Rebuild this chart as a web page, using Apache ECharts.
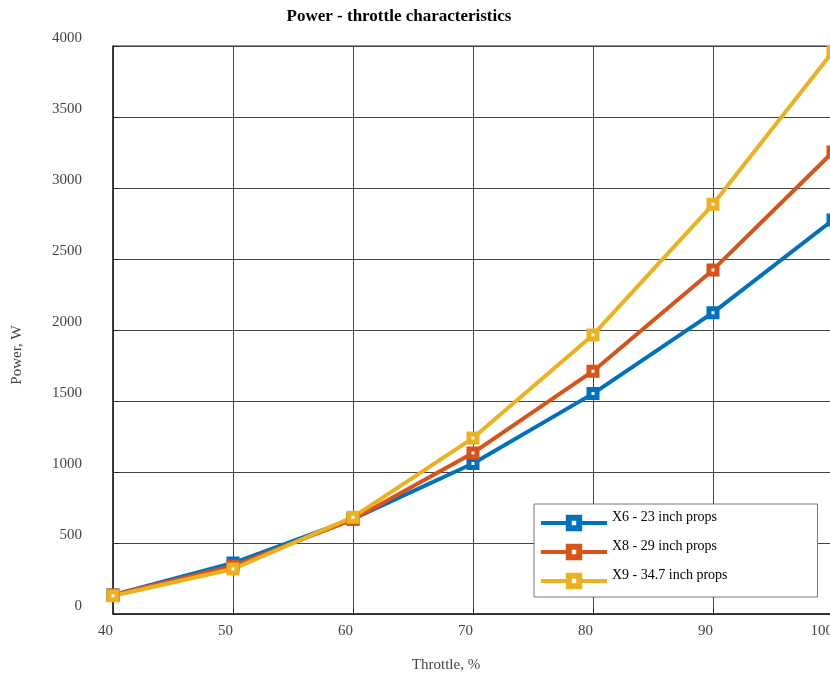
<!DOCTYPE html>
<html>
<head>
<meta charset="utf-8">
<script src="https://cdn.jsdelivr.net/npm/echarts@6/dist/echarts.min.js"></script>
<style>
  html, body { margin: 0; padding: 0; background: #fff; }
  #chart { width: 830px; height: 675px; }
</style>
</head>
<body>
<div id="chart"></div>
<script>
// Throttle settings, %
const throttle = [40, 50, 60, 70, 80, 90, 100];

// Measured electrical power, W
const powerX6 = [134, 359, 670, 1060, 1552, 2122, 2775];
const powerX8 = [134, 338, 665, 1134, 1710, 2423, 3254];
const powerX9 = [128, 317, 682, 1239, 1965, 2885, 3962];

const seriesNames = ['X6 - 23 inch props', 'X8 - 29 inch props', 'X9 - 34.7 inch props'];
const seriesColors = ['#0072BD', '#D95319', '#EDB120'];

const serif = 'Liberation Serif';
const gridColor = '#444';

function pairs(xs, ys) {
  return xs.map((x, i) => [x, ys[i]]);
}

function lineSeries(name, values, color) {
  return {
    name: name,
    type: 'line',
    data: pairs(throttle, values),
    symbol: 'rect',
    symbolSize: 8,
    showSymbol: true,
    lineStyle: { color: color, width: 4 },
    itemStyle: { color: '#fff', borderColor: color, borderWidth: 5 },
    emphasis: { disabled: true },
    animation: false
  };
}

const chart = echarts.init(document.getElementById('chart'), null, { renderer: 'canvas' });

chart.setOption({
  backgroundColor: '#fff',
  animation: false,
  title: {
    text: 'Power - throttle characteristics',
    left: 394,
    top: 3,
    textAlign: 'center',
    textStyle: { fontFamily: serif, fontSize: 17, fontWeight: 'bold', color: '#000' }
  },
  grid: {
    left: 113,
    top: 46,
    right: -3,
    bottom: 61,
    containLabel: false,
    outerBoundsMode: 'none',
    show: true,
    borderColor: '#262626',
    borderWidth: 1
  },
  legend: {
    orient: 'vertical',
    left: 534,
    top: 504,
    itemWidth: 66,
    itemHeight: 13,
    itemGap: 3,
    padding: [6, 90, 3, 5],
    backgroundColor: '#fff',
    borderColor: '#777',
    borderWidth: 1,
    data: seriesNames,
    lineStyle: { width: 4 },
    itemStyle: { borderWidth: 6 },
    // labels sit a little above their line sample
    formatter: name => name + '\n',
    textStyle: { fontFamily: serif, fontSize: 14, lineHeight: 12, color: '#000' }
  },
  xAxis: {
    type: 'value',
    min: 40,
    max: 100,
    interval: 10,
    axisLine: { show: true, onZero: false, lineStyle: { color: '#262626', width: 1.5 } },
    axisTick: { show: true, inside: true, length: 6, lineStyle: { color: '#262626' } },
    axisLabel: {
      fontFamily: serif, fontSize: 15, color: '#444', margin: 10, align: 'right',
      showMaxLabel: true, showMinLabel: true,
      formatter: v => String(v)
    },
    splitLine: { show: true, lineStyle: { color: gridColor, width: 1 } }
  },
  yAxis: {
    type: 'value',
    min: 0,
    max: 4000,
    interval: 500,
    axisLine: { show: true, lineStyle: { color: '#262626', width: 1.5 } },
    axisTick: { show: true, inside: true, length: 6, lineStyle: { color: '#262626' } },
    axisLabel: {
      fontFamily: serif, fontSize: 15, color: '#444', margin: 31,
      verticalAlign: 'bottom', lineHeight: 15,
      showMaxLabel: true, showMinLabel: true,
      formatter: v => String(v)
    },
    splitLine: { show: true, lineStyle: { color: gridColor, width: 1 } }
  },
  graphic: [
    {
      type: 'text',
      x: 446,
      y: 665,
      style: {
        text: 'Throttle, %',
        font: '15px "Liberation Serif"',
        fill: '#444',
        textAlign: 'center',
        textVerticalAlign: 'middle'
      }
    },
    {
      type: 'text',
      x: 17,
      y: 355,
      rotation: Math.PI / 2,
      style: {
        text: 'Power, W',
        font: '15px "Liberation Serif"',
        fill: '#444',
        textAlign: 'center',
        textVerticalAlign: 'middle'
      }
    }
  ],
  series: [
    lineSeries(seriesNames[0], powerX6, seriesColors[0]),
    lineSeries(seriesNames[1], powerX8, seriesColors[1]),
    lineSeries(seriesNames[2], powerX9, seriesColors[2])
  ]
});
</script>
</body>
</html>
